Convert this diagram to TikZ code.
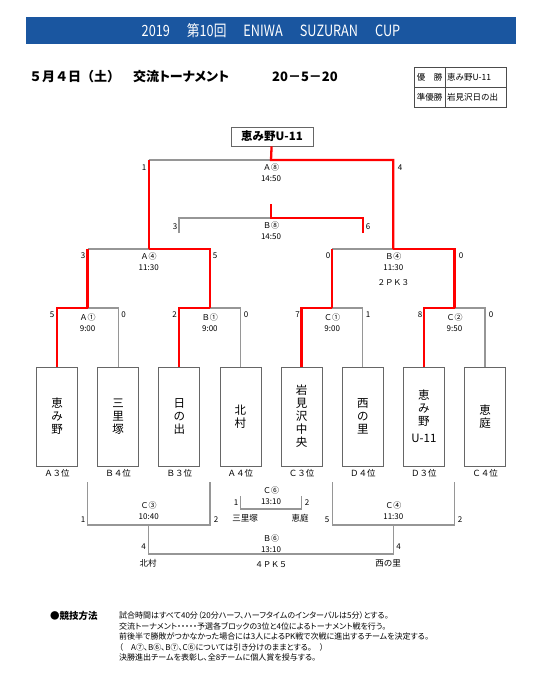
\documentclass[tikz,border=0pt]{standalone}
\usepackage{fontspec}
\setmainfont{Noto Sans CJK JP}
\newfontfamily\propfont[RawFeature=+palt]{Noto Sans CJK JP}
\newfontfamily\headfont[FakeStretch=0.82]{Noto Sans CJK JP}
\usetikzlibrary{positioning,calc}
\definecolor{hdrblue}{RGB}{26,86,160}
\definecolor{linegray}{RGB}{150,150,150}

\begin{document}
\begin{tikzpicture}[x=1pt,y=-1pt,
    grayline/.style={draw=linegray, line width=1.3pt},
    redline/.style={draw=red, line width=2.3pt},
    team/.style={draw=black!60, line width=0.8pt, minimum width=41pt, minimum height=99pt, inner sep=0pt, align=center, font=\fontsize{11.5}{13}\selectfont},
    rank/.style={font=\fontsize{8.5}{9}\selectfont, inner sep=0pt},
    mlbl/.style={font=\fontsize{8}{11}\selectfont, align=center, inner sep=0pt},
    score/.style={font=\fontsize{8}{9}\selectfont, inner sep=0pt},
    sublbl/.style={font=\fontsize{8.5}{9}\selectfont, inner sep=0pt},
    cell/.style={draw=black!70, line width=0.6pt, minimum height=20pt, inner sep=1.5pt, font=\fontsize{8.5}{10}\selectfont}
]
    \path[fill=white] (0,0) rectangle (543,689);
    \useasboundingbox (0,0) rectangle (543,689);

    % Title bar
    \node[fill=hdrblue, minimum width=490pt, minimum height=27pt, inner sep=0pt, text=white, font=\headfont\fontsize{15.5}{17}\selectfont] (hdr) at (271,30.5) {2019\hspace{17pt}第10回\hspace{17pt}ENIWA\hspace{17pt}SUZURAN\hspace{17pt}CUP};

    % Date and round
    \node[anchor=west, inner sep=0pt, font=\bfseries\fontsize{13}{15}\selectfont] (date) at (29,77) {５月４日（土）　{\propfont\bfseries 交流トーナメント}};
    \node[anchor=west, inner sep=0pt, font=\bfseries\fontsize{13}{15}\selectfont] (rules) at (272,77) {20－5－20};

    % Winners table
    \node[cell, minimum width=31pt] (win1) at (429.5,77) {優　勝};
    \node[cell, minimum width=61pt, text width=58pt, align=left, anchor=west] (win2) at (win1.east) {恵み野U-11};
    \node[cell, minimum width=31pt, below=0pt of win1] (run1) {準優勝};
    \node[cell, minimum width=61pt, text width=58pt, align=left, anchor=west] (run2) at (run1.east) {岩見沢日の出};

    % Champion
    \node[draw=black!60, line width=0.8pt, minimum width=82pt, minimum height=19pt, inner sep=0pt, font=\bfseries\fontsize{11.5}{13}\selectfont] (champ) at (272,136.5) {恵み野U-11};

    % Teams
    \foreach \n/\name/\rk [count=\i from 0] in {t1/{恵\\み\\野}/Ａ３位, t2/{三\\里\\塚}/Ｂ４位, t3/{日\\の\\出}/Ｂ３位, t4/{北\\村}/Ａ４位, t5/{岩\\見\\沢\\中\\央}/Ｃ３位, t6/{西\\の\\里}/Ｄ４位, t7/{恵\\み\\野\\[4pt]U-11}/Ｄ３位, t8/{恵\\庭}/Ｃ４位} {
        \node[team] (\n) at (57+61.15*\i,416.5) {\name};
        \node[rank, below=3pt of \n] (\n rank) {\rk};
    }

    % Match points
    \coordinate (a1) at (87.6,308);
    \coordinate (b1) at (209.9,308);
    \coordinate (c1) at (332.2,308);
    \coordinate (c2) at (454.5,308);
    \coordinate (a4) at (148.7,249);
    \coordinate (b4) at (393.3,249);
    \coordinate (a8) at (271,160);
    \coordinate (b8) at (271,218);
    \coordinate (b8t) at (271,204);
    \coordinate (b8l) at (179,233);
    \coordinate (b8r) at (363,233);

    % First round
    \draw[grayline] (a1) -| (t2.north);
    \draw[redline] (t1.north) |- (a1);
    \draw[grayline] (b1) -| (t4.north);
    \draw[redline] (t3.north) |- (b1);
    \draw[grayline] (c1) -| (t6.north);
    \draw[redline] (t5.north) |- (c1);
    \draw[grayline] (c2) -| (t8.north);
    \draw[redline] (t7.north) |- (c2);

    % Second round
    \draw[grayline] (a1 |- a4) -- (a4);
    \draw[redline] (a1) -- (a1 |- a4);
    \draw[redline] (b1) |- (a4);
    \draw[grayline] (c1 |- b4) -- (b4);
    \draw[redline] (c1) -- (c1 |- b4);
    \draw[redline] (c2) |- (b4);

    % Final
    \draw[grayline] (a4 |- a8) -- (a8);
    \draw[redline] (a4) -- (a4 |- a8);
    \draw[redline] (b4) |- (a8) -- (champ);

    % B8
    \draw[grayline] (b8l) |- (b8);
    \draw[redline] (b8r) |- (b8) -- (b8t);

    % Lower bracket
    \coordinate (c3l) at (87.6,482);
    \coordinate (c3r) at (209.9,482);
    \coordinate (c3) at (148.7,525);
    \coordinate (c4l) at (332.2,482);
    \coordinate (c4r) at (454.5,482);
    \coordinate (c4) at (393.3,525);
    \coordinate (c6l) at (240.45,496);
    \coordinate (c6r) at (301.6,496);
    \coordinate (c6) at (271,509);
    \coordinate (b6) at (271,554);
    \draw[grayline] (c3l) |- (c3) -| (c3r);
    \draw[grayline] (c4l) |- (c4) -| (c4r);
    \draw[grayline] (c6l) |- (c6) -| (c6r);
    \draw[grayline] (c3) |- (b6) -| (c4);

    % Match labels
    \node[mlbl, below=3.5pt of a8] (a8lbl) {Ａ⑧\\14:50};
    \node[mlbl, below=3.5pt of b8] (b8lbl) {Ｂ⑧\\14:50};
    \node[mlbl, below=3.5pt of a4] (a4lbl) {Ａ④\\11:30};
    \node[mlbl, below=3.5pt of b4] (b4lbl) {Ｂ④\\11:30};
    \node[mlbl, below=9pt of b4lbl] (b4pk) {２ＰＫ３};
    \node[mlbl, below=5.5pt of a1] (a1lbl) {Ａ①\\9:00};
    \node[mlbl, below=5.5pt of b1] (b1lbl) {Ｂ①\\9:00};
    \node[mlbl, below=5.5pt of c1] (c1lbl) {Ｃ①\\9:00};
    \node[mlbl, below=5.5pt of c2] (c2lbl) {Ｃ②\\9:50};
    \node[mlbl, above=5pt of c3] (c3lbl) {Ｃ③\\10:40};
    \node[mlbl, above=5pt of c4] (c4lbl) {Ｃ④\\11:30};
    \node[mlbl, above=4pt of c6] (c6lbl) {Ｃ⑥\\13:10};
    \node[mlbl, above=1pt of b6] (b6lbl) {Ｂ⑥\\13:10};
    \node[mlbl, below=7pt of b6] (b6pk) {４ＰＫ５};

    % Scores
    \node[score] at (144,168) {1};
    \node[score] at (400,168) {4};
    \node[score] at (175,227) {3};
    \node[score] at (368,227) {6};
    \node[score] at (83,256) {3};
    \node[score] at (215,256) {5};
    \node[score] at (328,256) {0};
    \node[score] at (461,256) {0};
    \node[score] at (52,315) {5};
    \node[score] at (123.5,315) {0};
    \node[score] at (174.5,315) {2};
    \node[score] at (246,315) {0};
    \node[score] at (297.5,315) {7};
    \node[score] at (368,315) {1};
    \node[score] at (420,315) {8};
    \node[score] at (491,315) {0};
    \node[score] at (83,520) {1};
    \node[score] at (216,520) {2};
    \node[score] at (236,503) {1};
    \node[score] at (307,503) {2};
    \node[score] at (327,520) {5};
    \node[score] at (460,520) {2};
    \node[score] at (143.5,547) {4};
    \node[score] at (398.5,547) {4};

    % Team names under lower bracket
    \node[sublbl] (n1) at (245,518) {三里塚};
    \node[sublbl] (n2) at (300,518) {恵庭};
    \node[sublbl] (n3) at (148,563) {北村};
    \node[sublbl] (n4) at (388,563) {西の里};

    % Rules
    \node[anchor=west, inner sep=0pt, font=\bfseries\fontsize{9.5}{11}\selectfont] (howto) at (50,616) {●競技方法};
    \node[anchor=north west, align=left, inner sep=0pt, font=\propfont\fontsize{8}{10.5}\selectfont] (howtext) at (119,611.5) {試合時間はすべて40分（20分ハーフ、ハーフタイムのインターバルは5分）とする。\\交流トーナメント・・・・・予選各ブロックの3位と4位によるトーナメント戦を行う。\\前後半で勝敗がつかなかった場合には3人によるPK戦で次戦に進出するチームを決定する。\\（　A⑦、B⑥、B⑦、C⑥については引き分けのままとする。　）\\決勝進出チームを表彰し、全8チームに個人賞を授与する。};
\end{tikzpicture}
\end{document}
